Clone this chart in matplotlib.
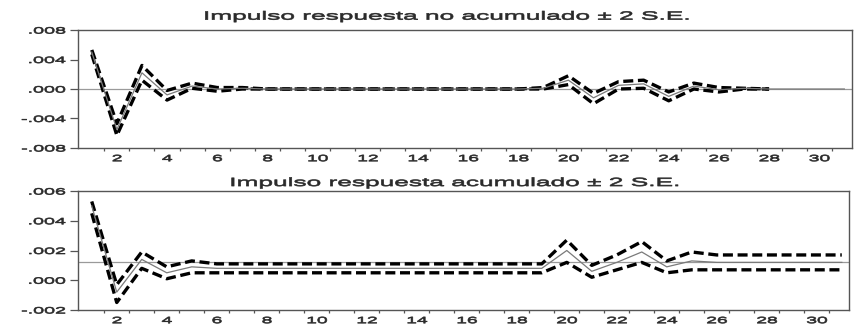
import matplotlib
matplotlib.use("Agg")
import matplotlib.pyplot as plt
import matplotlib.patheffects as pe
from matplotlib.transforms import Affine2D

periods = list(range(1, 32))

# Non-accumulated impulse response and +/- 2 S.E. bands
resp_na = [0.0050, -0.0055, 0.0022, -0.0008, 0.0004, 0.0000, 0.0001, 0.0, 0.0, 0.0,
           0.0, 0.0, 0.0, 0.0, 0.0, 0.0, 0.0, 0.0, 0.0001, 0.0012, -0.0012, 0.0005,
           0.0007, -0.0010, 0.0004, -0.0001, 0.0001, 0.0, 0.0, 0.0, 0.0]
upper_na = [0.0053, -0.0047, 0.0032, -0.0002, 0.0008, 0.0002, 0.0002, 0.0, 0.0, 0.0,
            0.0, 0.0, 0.0, 0.0, 0.0, 0.0, 0.0, 0.0, 0.0002, 0.0018, -0.0006, 0.0010,
            0.0012, -0.0004, 0.0008, 0.0002, 0.0001, 0.0]
lower_na = [0.0047, -0.0063, 0.0012, -0.0015, 0.0001, -0.0003, 0.0000, 0.0, 0.0, 0.0,
            0.0, 0.0, 0.0, 0.0, 0.0, 0.0, 0.0, 0.0, 0.0000, 0.0006, -0.0020, 0.0000,
            0.0001, -0.0016, 0.0000, -0.0004, 0.0000, 0.0]

# Accumulated impulse response and +/- 2 S.E. bands
resp_ac = [0.0050, -0.0008, 0.0014, 0.0005, 0.0009, 0.0008, 0.0008, 0.0008, 0.0008, 0.0008,
           0.0008, 0.0008, 0.0008, 0.0008, 0.0008, 0.0008, 0.0008, 0.0008, 0.0008, 0.0020,
           0.0006, 0.0012, 0.0019, 0.0009, 0.0013, 0.0012, 0.0012, 0.0012, 0.0012, 0.0012, 0.0012]
upper_ac = [0.0053, -0.0003, 0.0019, 0.0009, 0.0013, 0.0011, 0.0011, 0.0011, 0.0011, 0.0011,
            0.0011, 0.0011, 0.0011, 0.0011, 0.0011, 0.0011, 0.0011, 0.0011, 0.0011, 0.0027,
            0.0010, 0.0017, 0.0026, 0.0013, 0.0019, 0.0017, 0.0017, 0.0017, 0.0017, 0.0017, 0.0017]
lower_ac = [0.0045, -0.0015, 0.0008, 0.0001, 0.0005, 0.0005, 0.0005, 0.0005, 0.0005, 0.0005,
            0.0005, 0.0005, 0.0005, 0.0005, 0.0005, 0.0005, 0.0005, 0.0005, 0.0005, 0.0012,
            0.0002, 0.0007, 0.0012, 0.0005, 0.0007, 0.0007, 0.0007, 0.0007, 0.0007, 0.0007, 0.0007]

ref_na = 0.0
ref_ac = 0.00124

titles = ["Impulso respuesta no acumulado \u00b1 2 S.E.",
          "Impulso respuesta acumulado \u00b1 2 S.E."]
yticks_na = [-0.008, -0.004, 0.0, 0.004, 0.008]
yticks_ac = [-0.002, 0.0, 0.002, 0.004, 0.006]
xtick_labels = list(range(2, 31, 2))


def fmt(v):
    s = f"{v:.3f}"
    return s.replace("0.", ".", 1)


class Widen(pe.AbstractPathEffect):
    """Draw text glyphs stretched horizontally around an anchor, lightly stroked."""

    def __init__(self, sx, anchor="center", stroke=0.45):
        super().__init__()
        self.sx = sx
        self.anchor = anchor
        self.stroke = stroke

    def draw_path(self, renderer, gc, tpath, affine, rgbFace=None):
        xs = tpath.vertices[:, 0]
        if len(xs) == 0:
            return
        if self.anchor == "right":
            cx = xs.max()
        elif self.anchor == "left":
            cx = xs.min()
        else:
            cx = 0.5 * (xs.min() + xs.max())
        tr = Affine2D().translate(-cx, 0).scale(self.sx, 1).translate(cx, 0) + affine
        gc0 = renderer.new_gc()
        gc0.copy_properties(gc)
        gc0.set_linewidth(self.stroke)
        if rgbFace is not None:
            gc0.set_foreground(rgbFace)
        renderer.draw_path(gc0, tpath, tr, rgbFace)
        gc0.restore()


plt.rcParams['font.family'] = ['Liberation Sans', 'DejaVu Sans']
TXT = "#2a2a2a"
fig = plt.figure(figsize=(8.57, 3.34), dpi=100)

panels = [
    ([0.091, 0.557, 0.903, 0.353], resp_na, upper_na, lower_na, ref_na, yticks_na,
     titles[0], 0.475, 7.5),
    ([0.091, 0.072, 0.900, 0.356], resp_ac, upper_ac, lower_ac, ref_ac, yticks_ac,
     titles[1], 0.487, 3.6),
]

for rect, resp, up, lo, ref, yt, title, tx, tpad in panels:
    ax = fig.add_axes(rect)
    ax.axhline(ref, color="#9a9a9a", lw=0.9, zorder=1)
    ax.plot(periods[:len(up)], up, color="black", lw=2.4, ls=(0, (3.0, 1.4)), zorder=2)
    ax.plot(periods[:len(lo)], lo, color="black", lw=2.4, ls=(0, (3.0, 1.4)), zorder=2)
    ax.plot(periods, resp, color="#7a7a7a", lw=0.9, zorder=3)
    ax.set_xlim(0.45, 31.3)
    ax.set_ylim(yt[0], yt[-1])

    ax.set_yticks(yt)
    ax.set_yticklabels([fmt(v) for v in yt], fontsize=6.6, color=TXT)
    for lab in ax.get_yticklabels():
        lab.set_path_effects([Widen(2.15, "right")])

    ax.set_xticks(xtick_labels)
    ax.set_xticklabels([str(t) for t in xtick_labels], fontsize=6.6, color=TXT)
    for lab in ax.get_xticklabels():
        lab.set_path_effects([Widen(2.1, "center")])
    ax.set_xticks([p + 0.5 for p in periods[:-1]], minor=True)

    ax.tick_params(axis="y", which="major", direction="out", length=5.5, width=0.9,
                   colors="#555555", labelcolor=TXT, pad=3.5)
    ax.tick_params(axis="x", which="major", length=0, pad=4.5, labelcolor=TXT)
    ax.tick_params(axis="x", which="minor", direction="out", length=2.5, width=0.9,
                   colors="#555555")
    for sp in ax.spines.values():
        sp.set_color("#555555")
        sp.set_linewidth(1.0)

    t = ax.set_title(title, fontsize=8.6, color=TXT, pad=tpad, x=tx)
    t.set_path_effects([Widen(2.2, "center")])

fig.savefig("out.png", dpi=100)
